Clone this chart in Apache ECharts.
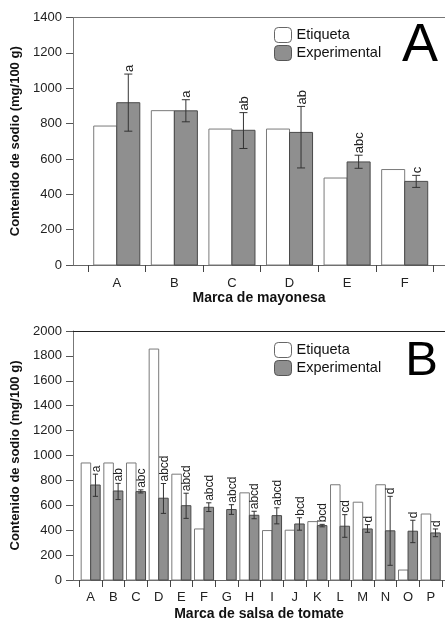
<!DOCTYPE html>
<html>
<head>
<meta charset="utf-8">
<script src="https://cdn.jsdelivr.net/npm/echarts@6/dist/echarts.min.js"></script>
<style>
html, body { margin: 0; padding: 0; background: #fff; }
#chart { width: 445px; height: 622px; }
</style>
</head>
<body>
<div id="chart"></div>
<script>
// Panel A: mayonesa
const mayoCats = ['A', 'B', 'C', 'D', 'E', 'F'];
const mayoEtiqueta = [786, 873, 769, 769, 492, 540];
const mayoExperimental = [918, 872, 762, 750, 583, 473];
const mayoErrHigh = [1080, 935, 862, 897, 621, 507];
const mayoErrLow = [757, 810, 659, 549, 547, 439];
const mayoLetters = ['a', 'a', 'ab', 'ab', 'abc', 'c'];

// Panel B: salsa de tomate
const salsaCats = ['A', 'B', 'C', 'D', 'E', 'F', 'G', 'H', 'I', 'J', 'K', 'L', 'M', 'N', 'O', 'P'];
const salsaEtiqueta = [940, 940, 940, 1855, 850, 410, null, 700, 397, 400, 469, 765, 625, 765, 80, 530];
const salsaExperimental = [763, 715, 710, 657, 597, 584, 566, 520, 517, 450, 437, 432, 410, 395, 392, 378];
const salsaErrHigh = [850, 776, 724, 775, 697, 620, 605, 552, 580, 500, 447, 525, 445, 672, 480, 410];
const salsaErrLow = [672, 646, 699, 535, 495, 550, 527, 492, 451, 400, 427, 343, 383, 118, 300, 348];
const salsaLetters = ['a', 'ab', 'abc', 'abcd', 'abcd', 'abcd', 'abcd', 'abcd', 'abcd', 'bcd', 'bcd', 'cd', 'd', 'd', 'd', 'd'];

const FONT = '"Liberation Sans", Arial, Helvetica, sans-serif';
const chart = echarts.init(document.getElementById('chart'));

// barra blanca (valor de etiqueta), a la izquierda del centro
function etiquetaBar(ratio) {
	return function (params, api) {
		const v = api.value(1);
		if (v == null || isNaN(v)) return null;
		const i = api.value(0);
		const w = api.size([1, 0])[0] * ratio;
		const top = api.coord([i + 0.5, v]);
		const base = api.coord([i + 0.5, 0]);
		return {
			type: 'rect',
			shape: { x: top[0] - w, y: top[1], width: w, height: base[1] - top[1] },
			style: { fill: '#fff', stroke: '#7a7a7a', lineWidth: 1 }
		};
	};
}

// barra gris + error + letra
function experimentalBar(ratio, capRatio, fontSize, letters) {
	return function (params, api) {
		const i = api.value(0);
		const v = api.value(1);
		const w = api.size([1, 0])[0] * ratio;
		const top = api.coord([i + 0.5, v]);
		const base = api.coord([i + 0.5, 0]);
		const hi = api.coord([i + 0.5, api.value(2)]);
		const lo = api.coord([i + 0.5, api.value(3)]);
		const cx = top[0] + w / 2;
		const cap = w * capRatio / 2;
		return {
			type: 'group',
			children: [
				{ type: 'rect', shape: { x: top[0], y: top[1], width: w, height: base[1] - top[1] },
					style: { fill: '#8f8f8f', stroke: '#4a4a4a', lineWidth: 1 } },
				{ type: 'line', shape: { x1: cx, y1: hi[1], x2: cx, y2: lo[1] }, style: { stroke: '#333', lineWidth: 1 } },
				{ type: 'line', shape: { x1: cx - cap, y1: hi[1], x2: cx + cap, y2: hi[1] }, style: { stroke: '#333', lineWidth: 1 } },
				{ type: 'line', shape: { x1: cx - cap, y1: lo[1], x2: cx + cap, y2: lo[1] }, style: { stroke: '#333', lineWidth: 1 } },
				{ type: 'text', x: cx + 1, y: hi[1] - 2, rotation: Math.PI / 2,
					style: { text: letters[params.dataIndex], fontSize: fontSize, fontFamily: FONT, fill: '#222', align: 'left', verticalAlign: 'middle' } }
			]
		};
	};
}

function bottomAxis(gridIndex, cats, min, max, name, margin, nameGap) {
	return {
		type: 'value', gridIndex: gridIndex, position: 'bottom', min: min, max: max,
		axisLine: { show: true, onZero: false, lineStyle: { color: '#666' } },
		axisTick: { show: true, length: 7, customValues: cats.map((c, i) => i).concat([cats.length]), lineStyle: { color: '#444' } },
		axisLabel: { customValues: cats.map((c, i) => i + 0.5), formatter: v => cats[Math.floor(v)], margin: margin,
			fontSize: 13, fontFamily: FONT, color: '#222' },
		splitLine: { show: false },
		name: name, nameLocation: 'middle', nameGap: nameGap,
		nameTextStyle: { fontSize: 14, fontWeight: 'bold', fontFamily: FONT, color: '#111' }
	};
}

function topAxis(gridIndex, min, max, color) {
	return {
		type: 'value', gridIndex: gridIndex, position: 'top', min: min, max: max,
		axisLine: { show: true, onZero: false, lineStyle: { color: color } },
		axisTick: { show: false }, axisLabel: { show: false }, splitLine: { show: false }
	};
}

function leftAxis(gridIndex, max) {
	return {
		type: 'value', gridIndex: gridIndex, min: 0, max: max, interval: 200,
		axisLine: { show: true, onZero: false, lineStyle: { color: '#777' } },
		axisTick: { show: true, length: 7, lineStyle: { color: '#555' } },
		axisLabel: { margin: 11, fontSize: 13, fontFamily: FONT, color: '#222', formatter: v => String(v) },
		splitLine: { show: false },
		name: 'Contenido de sodio (mg/100 g)', nameLocation: 'middle', nameGap: 51,
		nameTextStyle: { fontSize: 13, fontWeight: 'bold', fontFamily: FONT, color: '#111' }
	};
}

const legendData = [
	{ name: 'Etiqueta', itemStyle: { color: '#fff', borderColor: '#666', borderWidth: 1 } },
	{ name: 'Experimental', itemStyle: { color: '#8f8f8f', borderColor: '#555', borderWidth: 1 } }
];

const option = {
	animation: false,
	textStyle: { fontFamily: FONT },
	title: [
		{ text: 'A', right: 7, top: 19, padding: 0, textStyle: { fontSize: 54, fontWeight: 'normal', color: '#000', fontFamily: FONT } },
		{ text: 'B', right: 7, top: 337, padding: 0, textStyle: { fontSize: 49, fontWeight: 'normal', color: '#000', fontFamily: FONT } }
	],
	legend: [
		{ left: 274, top: 27, orient: 'vertical', padding: 0, itemGap: 2, itemWidth: 17, itemHeight: 15, icon: 'roundRect',
			data: legendData, textStyle: { fontSize: 14.5, color: '#111', fontFamily: FONT }, selectedMode: false },
		{ left: 274, top: 342, orient: 'vertical', padding: 0, itemGap: 2, itemWidth: 17, itemHeight: 15, icon: 'roundRect',
			data: legendData, textStyle: { fontSize: 14.5, color: '#111', fontFamily: FONT }, selectedMode: false }
	],
	grid: [
		{ left: 73, right: 0, top: 17.5, bottom: 357, outerBoundsMode: 'none' },
		{ left: 73, right: 0, top: 331, bottom: 42, outerBoundsMode: 'none' }
	],
	xAxis: [
		bottomAxis(0, mayoCats, -0.26, 6.2, 'Marca de mayonesa', 12, 25),
		topAxis(0, -0.26, 6.2, '#777'),
		bottomAxis(1, salsaCats, -0.28, 16.13, 'Marca de salsa de tomate', 11, 27),
		topAxis(1, -0.28, 16.13, '#222')
	],
	yAxis: [leftAxis(0, 1400), leftAxis(1, 2000)],
	series: [
		{ name: 'Etiqueta', type: 'custom', xAxisIndex: 0, yAxisIndex: 0, renderItem: etiquetaBar(0.4),
			itemStyle: { color: '#fff' }, encode: { x: 0, y: 1 }, data: mayoEtiqueta.map((v, i) => [i, v]) },
		{ name: 'Experimental', type: 'custom', xAxisIndex: 0, yAxisIndex: 0, renderItem: experimentalBar(0.4, 0.35, 13, mayoLetters),
			itemStyle: { color: '#8f8f8f' }, encode: { x: 0, y: 1 },
			data: mayoExperimental.map((v, i) => [i, v, mayoErrHigh[i], mayoErrLow[i]]) },
		{ name: 'Etiqueta', type: 'custom', xAxisIndex: 2, yAxisIndex: 1, renderItem: etiquetaBar(0.42),
			itemStyle: { color: '#fff' }, encode: { x: 0, y: 1 }, data: salsaEtiqueta.map((v, i) => [i, v == null ? '-' : v]) },
		{ name: 'Experimental', type: 'custom', xAxisIndex: 2, yAxisIndex: 1, renderItem: experimentalBar(0.42, 0.55, 12, salsaLetters),
			itemStyle: { color: '#8f8f8f' }, encode: { x: 0, y: 1 },
			data: salsaExperimental.map((v, i) => [i, v, salsaErrHigh[i], salsaErrLow[i]]) }
	]
};
chart.setOption(option);
</script>
</body>
</html>
